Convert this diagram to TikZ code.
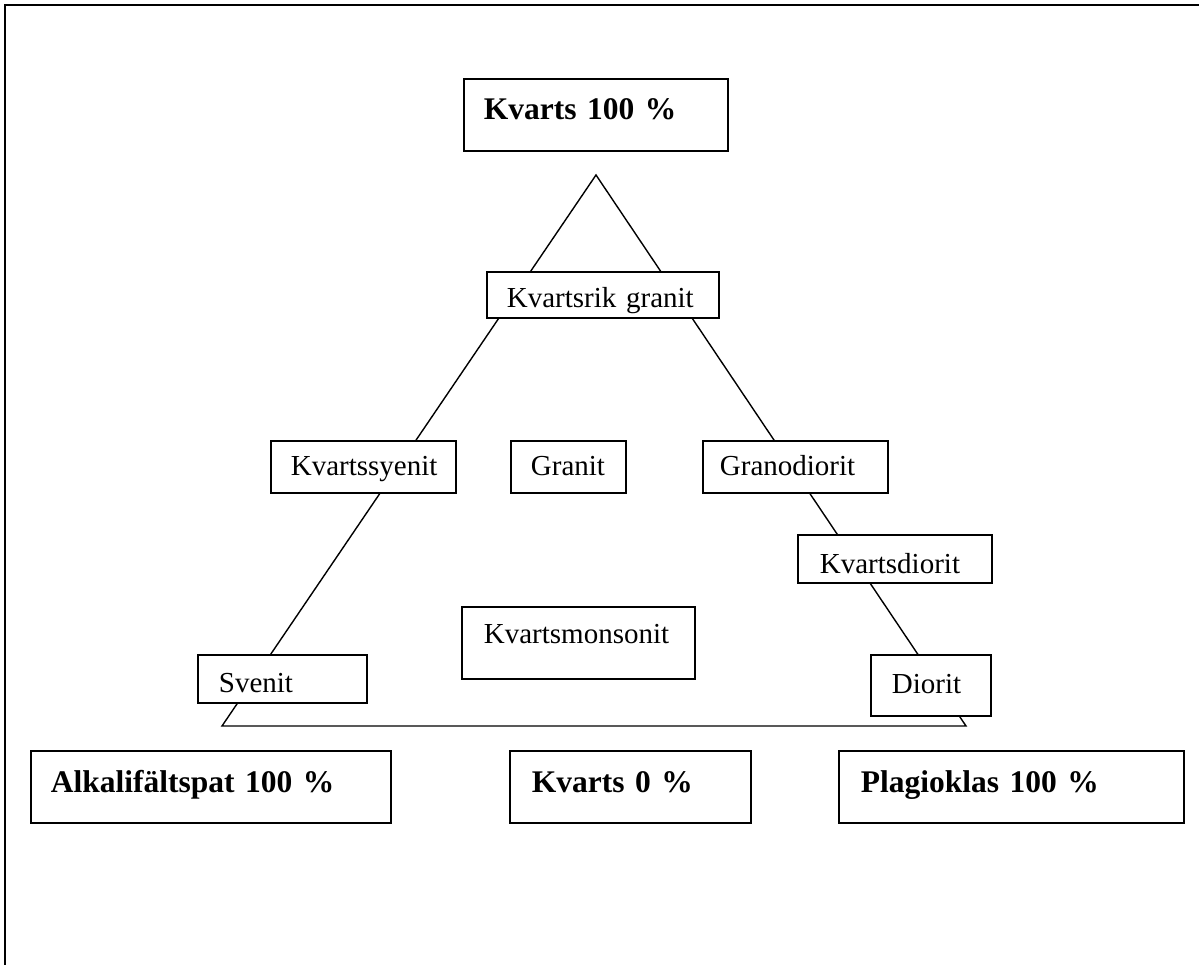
\documentclass[tikz,border=0pt]{standalone}
\usepackage{fontspec}
\setmainfont{Liberation Serif}
\begin{document}
\begin{tikzpicture}[x=1pt,y=-1pt,
  box/.style={draw, line width=1.8pt, fill=white, rectangle, anchor=north west,
    inner ysep=0pt, align=left},
  big/.style={font=\fontsize{31.5}{36}\selectfont\bfseries},
  small/.style={font=\fontsize{29}{33}\selectfont},
  tri/.style={line width=1.4pt, line join=miter}]
\useasboundingbox (0,0) rectangle (1199,965);
% frame
\draw[line width=2.2pt] (5,965) -- (5,5) -- (1199,5);
% triangle
\coordinate (apex) at (596,175);
\coordinate (bl) at (222,726);
\coordinate (br) at (966,726);
\draw[tri] (apex) -- (bl) -- (br) -- cycle;
% boxes
\node[box,big,inner xsep=20pt,text width=224pt,text height=41pt,text depth=31pt] (kv100) at (463,78) {\mbox{Kvarts 100 \%}};
\node[box,small,inner xsep=20pt,text width=192pt,text height=36pt,text depth=10pt] (rik) at (486,271) {\mbox{Kvartsrik granit}};
\node[box,small,inner xsep=20pt,text width=145pt,text height=35pt,text depth=17pt] (syen) at (270,440) {\mbox{Kvartssyenit}};
\node[box,small,inner xsep=20pt,text width=75pt,text height=35pt,text depth=17pt] (granit) at (510,440) {\mbox{Granit}};
\node[box,small,inner xsep=17pt,text width=151pt,text height=35pt,text depth=17pt] (grano) at (702,440) {\mbox{Granodiorit}};
\node[box,small,inner xsep=22pt,text width=150pt,text height=39pt,text depth=9pt] (kdior) at (797,534) {\mbox{Kvartsdiorit}};
\node[box,small,inner xsep=22pt,text width=189pt,text height=37pt,text depth=35pt] (monz) at (461,606) {\mbox{Kvartsmonsonit}};
\node[box,small,inner xsep=21pt,text width=127pt,text height=38pt,text depth=10pt] (svenit) at (197,654) {\mbox{Svenit}};
\node[box,small,inner xsep=21pt,text width=78pt,text height=39pt,text depth=22pt] (diorit) at (870,654) {\mbox{Diorit}};
\node[box,big,inner xsep=20pt,text width=320pt,text height=42pt,text depth=30pt] (alk) at (30,750) {\mbox{Alkalifältspat 100 \%}};
\node[box,big,inner xsep=22pt,text width=197pt,text height=42pt,text depth=30pt] (kv0) at (509,750) {\mbox{Kvarts 0 \%}};
\node[box,big,inner xsep=22pt,text width=301pt,text height=42pt,text depth=30pt] (plag) at (838,750) {\mbox{Plagioklas 100 \%}};
\end{tikzpicture}
\end{document}
